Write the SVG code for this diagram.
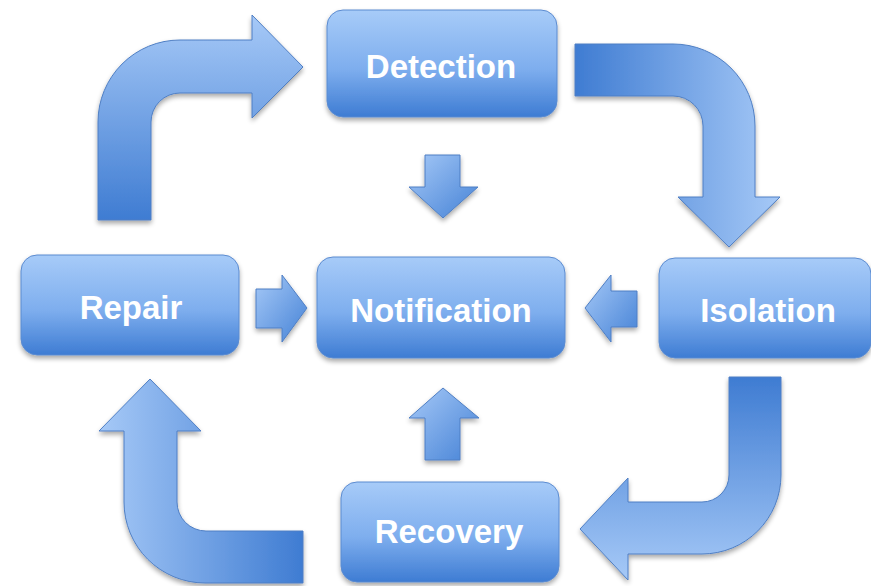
<svg xmlns="http://www.w3.org/2000/svg" width="871" height="586" viewBox="0 0 871 586">
  <defs>
    <linearGradient id="boxFill" x1="0" y1="0" x2="0" y2="1">
      <stop offset="0" stop-color="#a7cbf8"/>
      <stop offset="0.55" stop-color="#7eaeee"/>
      <stop offset="1" stop-color="#3e7cd3"/>
    </linearGradient>
    <!-- arrow gradients: dark at the tail, light toward the head -->
    <linearGradient id="gUp" x1="0" y1="1" x2="0" y2="0">
      <stop offset="0" stop-color="#3f7cd2"/>
      <stop offset="1" stop-color="#a6c9f7"/>
    </linearGradient>
    <linearGradient id="gRight" x1="0" y1="0" x2="1" y2="0">
      <stop offset="0" stop-color="#3f7cd2"/>
      <stop offset="1" stop-color="#a6c9f7"/>
    </linearGradient>
    <linearGradient id="gDown" x1="0" y1="0" x2="0" y2="1">
      <stop offset="0" stop-color="#3f7cd2"/>
      <stop offset="1" stop-color="#a6c9f7"/>
    </linearGradient>
    <linearGradient id="gLeft" x1="1" y1="0" x2="0" y2="0">
      <stop offset="0" stop-color="#3f7cd2"/>
      <stop offset="1" stop-color="#a6c9f7"/>
    </linearGradient>
    <linearGradient id="gSmall" x1="0" y1="0" x2="1" y2="1">
      <stop offset="0" stop-color="#a6c9f7"/>
      <stop offset="1" stop-color="#4582d6"/>
    </linearGradient>
    <filter id="shadow" x="-10%" y="-10%" width="120%" height="130%">
      <feGaussianBlur in="SourceAlpha" stdDeviation="2.5"/>
      <feOffset dx="0" dy="3" result="b"/>
      <feComponentTransfer><feFuncA type="linear" slope="0.35"/></feComponentTransfer>
      <feMerge><feMergeNode/><feMergeNode in="SourceGraphic"/></feMerge>
    </filter>
  </defs>
  <style>
    .box { fill: url(#boxFill); stroke: #5b8bd0; stroke-width: 1; filter: url(#shadow); }
    .arrow { stroke: #4f7fc4; stroke-width: 1; stroke-linejoin: round; filter: url(#shadow); }
    .label { font-family: "Liberation Sans", Arial, sans-serif; font-weight: bold; font-size: 33px; fill: #ffffff; text-anchor: middle; }
  </style>

  <rect width="871" height="586" fill="#ffffff"/>

  <g id="connectors">
    <!-- Repair to Detection -->
    <path class="arrow" fill="url(#gUp)" d="M98,220 L98,122 A82,82 0 0 1 180,40 L252,40 L252,15 L303,67 L252,118 L252,93 L180,93 A29,29 0 0 0 151,122 L151,220 Z"/>
    <!-- Detection to Isolation -->
    <path class="arrow" fill="url(#gRight)" d="M575,44 L673,44 A82,82 0 0 1 755,126 L755,197 L780,197 L729,247 L678,197 L703,197 L703,126 A30,30 0 0 0 673,96 L575,96 Z"/>
    <!-- Isolation to Recovery -->
    <path class="arrow" fill="url(#gDown)" d="M781,377 L781,475 A79,79 0 0 1 702,554 L628,554 L628,580 L580,529 L628,478 L628,502 L702,502 A27,27 0 0 0 729,475 L729,377 Z"/>
    <!-- Recovery to Repair -->
    <path class="arrow" fill="url(#gLeft)" d="M303,583 L205,583 A81,81 0 0 1 124,502 L124,431 L99,431 L150,379 L201,431 L177,431 L177,502 A29,29 0 0 0 206,531 L303,531 Z"/>
    <!-- into Notification -->
    <path class="arrow" fill="url(#gSmall)" d="M425,155 L460,155 L460,187 L478,187 L443,218 L409,187 L425,187 Z"/>
    <path class="arrow" fill="url(#gSmall)" d="M256,289 L282,289 L282,275 L307,308 L282,342 L282,328 L256,328 Z"/>
    <path class="arrow" fill="url(#gSmall)" d="M637,291 L611,291 L611,275 L585,308 L611,342 L611,327 L637,327 Z"/>
    <path class="arrow" fill="url(#gSmall)" d="M425,460 L460,460 L460,418 L479,418 L443,388 L409,418 L425,418 Z"/>
  </g>

  <g id="detection">
    <rect class="box" x="327" y="10" width="230" height="107" rx="16"/>
    <text class="label" x="441" y="78">Detection</text>
  </g>
  <g id="notification">
    <rect class="box" x="317" y="257" width="248" height="101" rx="16"/>
    <text class="label" x="441" y="322">Notification</text>
  </g>
  <g id="repair">
    <rect class="box" x="21" y="255" width="218" height="100" rx="16"/>
    <text class="label" x="131" y="319">Repair</text>
  </g>
  <g id="isolation">
    <rect class="box" x="659" y="258" width="212" height="100" rx="16"/>
    <text class="label" x="768" y="322">Isolation</text>
  </g>
  <g id="recovery">
    <rect class="box" x="341" y="482" width="218" height="100" rx="16"/>
    <text class="label" x="449" y="543">Recovery</text>
  </g>
</svg>
